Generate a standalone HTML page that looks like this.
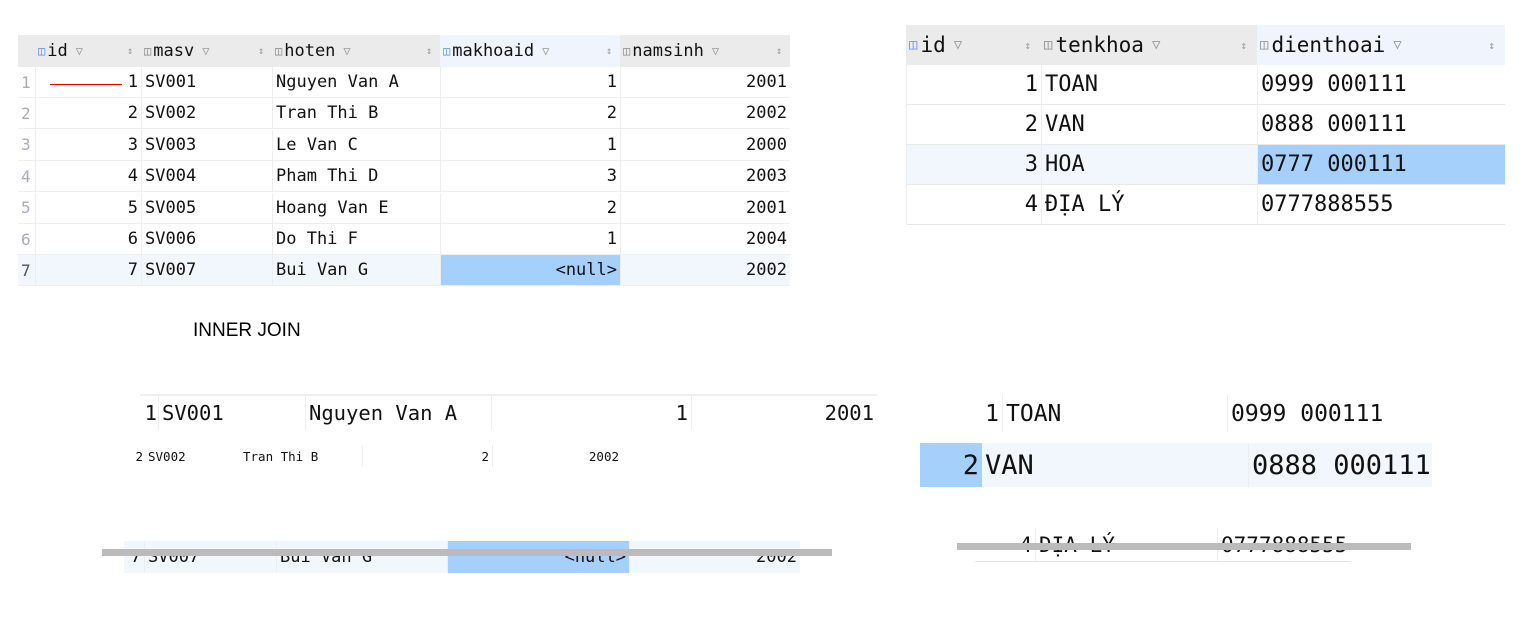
<!DOCTYPE html>
<html><head><meta charset="utf-8">
<style>
html,body{margin:0;padding:0;background:#fff;}
body{width:1539px;height:628px;position:relative;overflow:hidden;font-family:"DejaVu Sans Mono","Liberation Mono",monospace;color:#111;}
.c{position:absolute;box-sizing:border-box;white-space:nowrap;display:flex;align-items:center;overflow:hidden;}
.r{justify-content:flex-end;}
.abs{position:absolute;}
</style></head>
<body>
<div class="abs" style="left:193px;top:320px;font-family:'Liberation Sans',sans-serif;font-size:19px;color:#000;">INNER JOIN</div>
<script>
function cell(x,y,w,h,txt,fs,opt){
  opt=opt||{};
  var d=document.createElement('div');
  d.className='c'+(opt.right?' r':'');
  d.style.left=x+'px';d.style.top=y+'px';d.style.width=w+'px';d.style.height=h+'px';
  d.style.fontSize=fs+'px';
  d.style.padding='0 3px';
  if(opt.bg)d.style.background=opt.bg;
  if(opt.color)d.style.color=opt.color;
  if(opt.bl)d.style.borderLeft='1px solid '+opt.bl;
  if(opt.bb)d.style.borderBottom='1px solid '+opt.bb;
  d.textContent=txt;
  document.body.appendChild(d);
  return d;
}
function bar(x,y,w,h,c){
  var d=document.createElement('div');
  d.className='abs';
  d.style.left=x+'px';d.style.top=y+'px';d.style.width=w+'px';d.style.height=h+'px';d.style.background=c;
  document.body.appendChild(d);
  return d;
}
// ---------- table 1 (sinhvien) ----------
var t1cols=[['',18,17],['id',35,106],['masv',141,131],['hoten',272,168],['makhoaid',440,180],['namsinh',620,170]];
var t1rows=[['1','SV001','Nguyen Van A','1','2001'],['2','SV002','Tran Thi B','2','2002'],['3','SV003','Le Van C','1','2000'],['4','SV004','Pham Thi D','3','2003'],['5','SV005','Hoang Van E','2','2001'],['6','SV006','Do Thi F','1','2004'],['7','SV007','Bui Van G','<null>','2002']];
var hb=bar(18,35,772,32,'#ebebeb');


var hb2=bar(440,35,180,32,'#f0f4fc');


for(var i=1;i<t1cols.length;i++){
  var col=t1cols[i];
  var h=cell(col[1],35,col[2],32,'',17);
  h.innerHTML='<span style="font-size:12px;color:'+(i==1||i==4?'#5b8de6':'#888')+';margin-right:2px">&#9707;</span>'+col[0]+'<span style="font-size:12px;color:#999;margin-left:8px">&#9661;</span><span style="position:absolute;right:8px;font-size:10px;color:#999">&#8597;</span>';
  
  
}
for(var r=0;r<t1rows.length;r++){
  var y=67+r*31.4;
  var sel=(r==6);
  var rb=bar(18,y,772,31,sel?'#f2f6fd':'#fff');
  
  
  var n=cell(18,y,17,31,String(r+1),16,{color:sel?'#555':'#aab',bb:'#eee'});
  
  
  var row=t1rows[r];
  for(var k=0;k<5;k++){
    var col=t1cols[k+1];
    var right=(k==0||k==3||k==4);
    var bg=(sel&&k==3)?'#a6d0fc':null;
    var c=cell(col[1],y,col[2],31,row[k],17,{right:right,bl:'#eee',bb:'#eee',bg:bg});
    
    
  }
}
var red=bar(50,84,72,1,'#e00');


// ---------- table 2 (khoa) ----------
var t2cols=[['id',906,135],['tenkhoa',1041,216],['dienthoai',1257,248]];
var t2rows=[['1','TOAN','0999 000111'],['2','VAN','0888 000111'],['3','HOA','0777 000111'],['4','ĐỊA LÝ','0777888555']];
var hb3=bar(906,25,599,40,'#ebebeb');


var hb4=bar(1257,25,248,40,'#f0f4fc');


for(var i=0;i<3;i++){
  var col=t2cols[i];
  var h=cell(col[1],25,col[2],40,'',21);
  h.innerHTML='<span style="font-size:14px;color:'+(i==0?'#5b8de6':'#888')+';margin-right:3px">&#9707;</span>'+col[0]+'<span style="font-size:14px;color:#999;margin-left:8px">&#9661;</span><span style="position:absolute;right:10px;font-size:11px;color:#999">&#8597;</span>';
  
  
}
for(var r=0;r<t2rows.length;r++){
  var y=65+r*40;
  var sel=(r==2);
  var rb=bar(906,y,599,40,sel?'#f2f6fd':'#fff');
  
  
  for(var k=0;k<3;k++){
    var col=t2cols[k];
    var bg=(sel&&k==2)?'#a6d0fc':null;
    var c=cell(col[1],y,col[2],40,t2rows[r][k],22,{right:k==0,bl:'#eee',bb:'#e8e8e8',bg:bg});
    
    
  }
}
// ---------- bottom-left join fragments ----------
var tl=bar(140,394,737,2,'#f0f0f0');


var bl1=[['1',140,20,true],['SV001',158,147,false],['Nguyen Van A',305,186,false],['1',491,200,true],['2001',691,186,true]];
for(var k=0;k<bl1.length;k++){
  var c=cell(bl1[k][1],396,bl1[k][2],34,bl1[k][0],20.5,{right:bl1[k][3],bl:k>0?'#eee':null});
  
  
}
var bl2=[['2',130,16,true],['SV002',145,95,false],['Tran Thi B',240,122,false],['2',362,130,true],['2002',492,130,true]];
for(var k=0;k<bl2.length;k++){
  var c=cell(bl2[k][1],445,bl2[k][2],22,bl2[k][0],12.5,{right:bl2[k][3],bl:(k==3||k==4)?'#eee':null});
  
  
}
var rb7=bar(124,541,676,32,'#f2f6fd');


var bl7=[['7',124,20,true],['SV007',144,132,false],['Bui Van G',276,171,false],['<null>',447,182,true],['2002',629,171,true]];
for(var k=0;k<bl7.length;k++){
  var c=cell(bl7[k][1],541,bl7[k][2],32,bl7[k][0],17,{right:bl7[k][3],bl:k>0?'#eee':null,bg:k==3?'#a6d0fc':null});
  
  
}
var g1=bar(102,549,730,7,'#bbb');


// ---------- bottom-right ----------
var br1=[['1',960,42,true],['TOAN',1002,225,false],['0999 000111',1227,200,false]];
for(var k=0;k<br1.length;k++){
  var c=cell(br1[k][1],395,br1[k][2],37,br1[k][0],23,{right:br1[k][3],bl:k>0?'#eee':null});
  
  
}
var rb2=bar(920,443,512,44,'#f2f6fd');


var br2=[['2',920,62,true],['VAN',982,266,false],['0888 000111',1248,184,false]];
for(var k=0;k<br2.length;k++){
  var c=cell(br2[k][1],443,br2[k][2],44,br2[k][0],27,{right:br2[k][3],bl:k==2?'#eee':null,bg:k==0?'#a6d0fc':null});
  
  
}
var br4=[['4',975,60,true],['ĐỊA LÝ',1035,182,false],['0777888555',1217,134,false]];
for(var k=0;k<br4.length;k++){
  var c=cell(br4[k][1],528,br4[k][2],34,br4[k][0],21,{right:br4[k][3],bl:k>0?'#eee':null,bb:'#e5e5e5'});
  
  
}
var g2=bar(957,543,454,7,'#bbb');


</script>
</body></html>
